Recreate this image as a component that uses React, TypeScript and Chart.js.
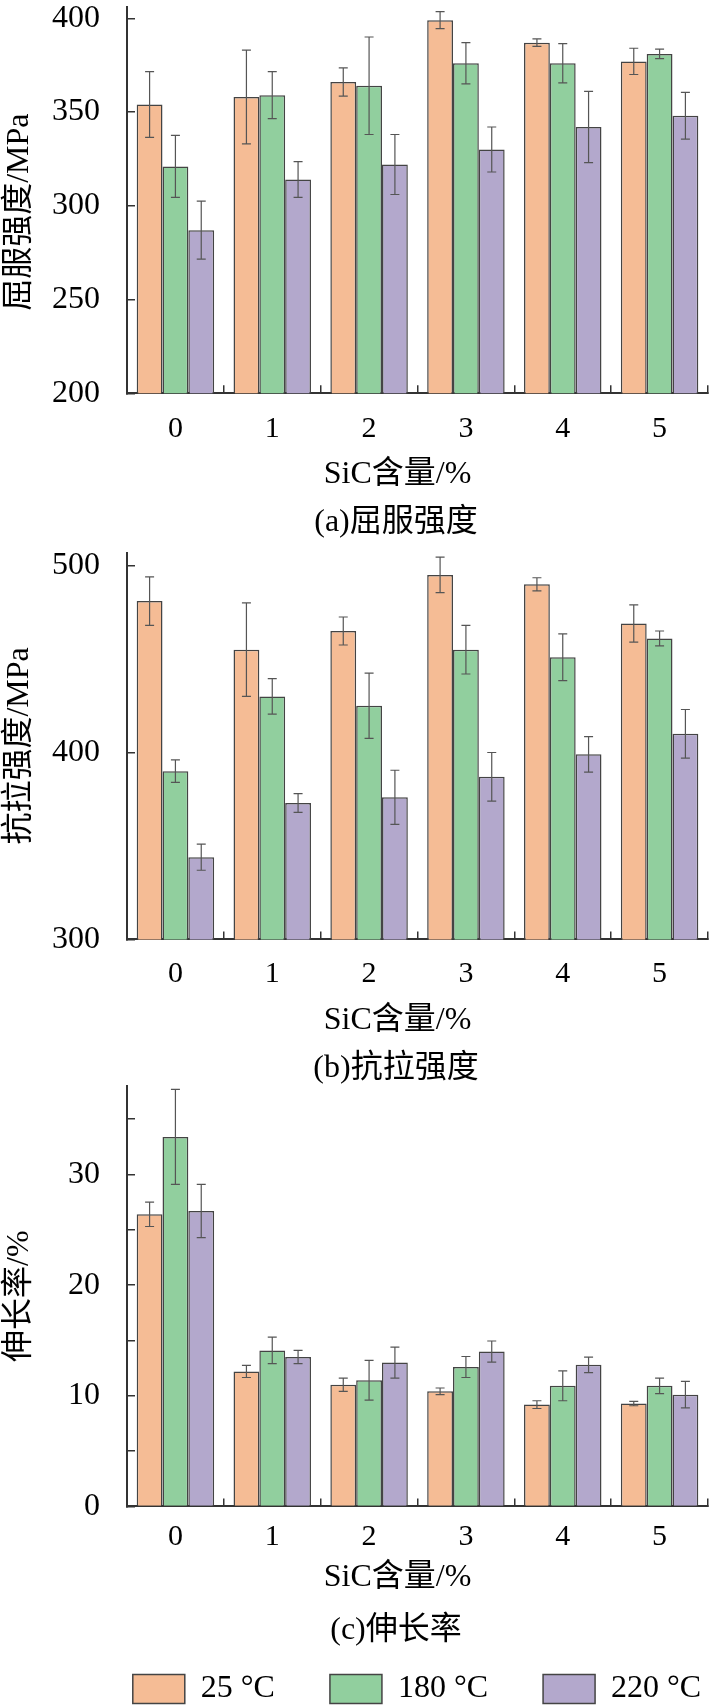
import React, { useEffect, useRef } from 'react';
import { Chart, registerables } from 'chart.js';

Chart.register(...registerables);

Chart.defaults.font.family = "'Liberation Serif', 'Noto Sans CJK SC', serif";
Chart.defaults.color = '#000';

const categories = ['0', '1', '2', '3', '4', '5'];
const seriesLabels = ['25 °C', '180 °C', '220 °C'];
const fills = ['#F5BC95', '#91CF9E', '#B3A8CC'];

// (a) 屈服强度, MPa
const yield25 = [354, 358, 366, 399, 387, 377];
const yield180 = [321, 359, 364, 376, 376, 381];
const yield220 = [287, 314, 322, 330, 342, 348];
const yieldErr25 = [17.5, 25, 7.5, 4.5, 2, 7];
const yieldErr180 = [16.5, 12.5, 26, 11, 10.5, 2.5];
const yieldErr220 = [15.5, 9.5, 16, 12, 19, 12.5];
const yieldTicks = [200, 250, 300, 350, 400];

// (b) 抗拉强度, MPa
const tensile25 = [481, 455, 465, 495, 490, 469];
const tensile180 = [390, 430, 425, 455, 451, 461];
const tensile220 = [344, 373, 376, 387, 399, 410];
const tensileErr25 = [13, 25, 7.5, 9.5, 3.5, 10];
const tensileErr180 = [6, 9.5, 17.5, 13, 12.5, 4];
const tensileErr220 = [7, 5, 14.5, 13, 9.5, 13];
const tensileTicks = [300, 400, 500];

// (c) 伸长率, %
const elong25 = [26.4, 12.2, 11.0, 10.4, 9.2, 9.3];
const elong180 = [33.4, 14.1, 11.4, 12.6, 10.9, 10.9];
const elong220 = [26.7, 13.5, 13.0, 14.0, 12.8, 10.1];
const elongErr25 = [1.1, 0.55, 0.6, 0.3, 0.35, 0.2];
const elongErr180 = [4.3, 1.2, 1.8, 0.95, 1.35, 0.7];
const elongErr220 = [2.4, 0.6, 1.4, 0.95, 0.7, 1.2];
const elongTicks = [0, 5, 10, 15, 20, 25, 30, 35];
const elongLabelled = [0, 10, 20, 30];

// draws the +/- whiskers on top of every bar
const errorBars = {
  id: 'errorBars',
  afterDatasetsDraw(chart: any) {
    const { ctx } = chart;
    const y = chart.scales.y;
    ctx.save();
    ctx.strokeStyle = '#555';
    ctx.lineWidth = 1.2;
    chart.data.datasets.forEach((ds: any, i: number) => {
      const meta = chart.getDatasetMeta(i);
      meta.data.forEach((bar: any, j: number) => {
        const v = ds.data[j];
        const e = ds.errors[j];
        const top = y.getPixelForValue(v + e);
        const bot = y.getPixelForValue(v - e);
        const x = bar.x;
        ctx.beginPath();
        ctx.moveTo(x, top);
        ctx.lineTo(x, bot);
        ctx.moveTo(x - 4.5, top);
        ctx.lineTo(x + 4.5, top);
        ctx.moveTo(x - 4.5, bot);
        ctx.lineTo(x + 4.5, bot);
        ctx.stroke();
      });
    });
    ctx.restore();
  },
};

// caption and legend sit a little right of the page centre
const nudgeBoxes = {
  id: 'nudgeBoxes',
  afterLayout(chart: any) {
    const tb = chart.titleBlock;
    if (tb) {
      tb.left += 42;
      tb.right += 42;
    }
    const lg = chart.legend;
    if (lg && lg.options.display) {
      lg.left += 63;
      lg.right += 63;
    }
  },
};

type PanelProps = {
  height: number;
  values: number[][];
  errors: number[][];
  min: number;
  max: number;
  tickValues: number[];
  labelled?: number[];
  yTitle: string;
  caption: string;
  padTop: number;
  padBottom: number;
  tickPad: number;
  xTitlePad: number;
  xHeight: number;
  capTop: number;
  capBottom: number;
  legend?: boolean;
};

function Panel(p: PanelProps) {
  const canvasRef = useRef<HTMLCanvasElement | null>(null);

  useEffect(() => {
    const el = canvasRef.current;
    if (!el) return;

    const shown = p.labelled || p.tickValues;

    const chart = new Chart(el, {
      type: 'bar',
      data: {
        labels: categories,
        datasets: seriesLabels.map((label, i) => ({
          label,
          data: p.values[i],
          errors: p.errors[i],
          backgroundColor: fills[i],
          borderColor: '#444',
          borderWidth: 1.5,
          categoryPercentage: 0.8,
          barPercentage: 1,
        })) as any,
      },
      options: {
        animation: false,
        responsive: true,
        maintainAspectRatio: false,
        layout: { padding: { top: p.padTop, bottom: p.padBottom, left: 0, right: 2 } },
        scales: {
          x: {
            grid: {
              drawOnChartArea: false,
              tickLength: -8,
              color: '#333',
              lineWidth: 1.5,
            },
            border: { display: true, color: '#333', width: 2 },
            ticks: { padding: p.tickPad, font: { size: 30, lineHeight: 1 } },
            title: {
              display: true,
              text: 'SiC含量/%     ',
              font: { size: 32, lineHeight: 1 },
              padding: { top: p.xTitlePad, bottom: 0 },
            },
            afterFit: (scale: any) => {
              scale.height = p.xHeight;
            },
          },
          y: {
            min: p.min,
            max: p.max,
            bounds: 'data',
            grid: {
              drawOnChartArea: false,
              tickLength: -8,
              color: '#333',
              lineWidth: 1.5,
            },
            border: { display: true, color: '#333', width: 2 },
            ticks: {
              autoSkip: false,
              padding: 35,
              font: { size: 32, lineHeight: 1 },
              callback: (v: any) => (shown.includes(Number(v)) ? String(v) : ''),
            },
            afterBuildTicks: (scale: any) => {
              scale.ticks = p.tickValues.map((v) => ({ value: v }));
            },
            title: {
              display: true,
              text: p.yTitle,
              font: { size: 32, lineHeight: 1 },
              padding: { top: 4, bottom: 0 },
            },
            afterFit: (scale: any) => {
              scale.width = 127;
              scale.paddingTop = 0;
              scale.paddingBottom = 0;
            },
          },
        },
        plugins: {
          legend: {
            display: !!p.legend,
            position: 'bottom',
            fullSize: true,
            labels: {
              boxWidth: 52,
              boxHeight: 29,
              padding: 55,
              font: { size: 32, lineHeight: 1 },
            },
          },
          title: {
            display: true,
            text: p.caption,
            position: 'bottom',
            weight: 500,
            font: { size: 32, lineHeight: 1, weight: 'normal' },
            padding: { top: p.capTop, bottom: p.capBottom },
          },
          tooltip: { enabled: false },
        },
      } as any,
      plugins: [errorBars, nudgeBoxes],
    });

    return () => {
      chart.destroy();
    };
  }, []);

  return (
    <div style={{ position: 'relative', width: 710, height: p.height }}>
      <canvas ref={canvasRef} />
    </div>
  );
}

export default function App() {
  return (
    <div style={{ width: 710, height: 1706, overflow: 'hidden', background: '#fff' }}>
      <style>{'body{margin:0;background:#fff}'}</style>
      <Panel
        height={544}
        values={[yield25, yield180, yield220]}
        errors={[yieldErr25, yieldErr180, yieldErr220]}
        min={200}
        max={406}
        tickValues={yieldTicks}
        yTitle={'屈服强度/MPa   '}
        caption="(a)屈服强度"
        padTop={7}
        padBottom={5}
        tickPad={28.7}
        xTitlePad={15}
        xHeight={97.7}
        capTop={16}
        capBottom={0}
      />
      <Panel
        height={541}
        values={[tensile25, tensile180, tensile220]}
        errors={[tensileErr25, tensileErr180, tensileErr220]}
        min={300}
        max={507}
        tickValues={tensileTicks}
        yTitle="抗拉强度/MPa"
        caption="(b)抗拉强度"
        padTop={8.5}
        padBottom={0}
        tickPad={28}
        xTitlePad={15}
        xHeight={97}
        capTop={16.6}
        capBottom={0}
      />
      <Panel
        height={630}
        values={[elong25, elong180, elong220]}
        errors={[elongErr25, elongErr180, elongErr220]}
        min={0}
        max={38}
        tickValues={elongTicks}
        labelled={elongLabelled}
        yTitle="伸长率/%"
        caption="(c)伸长率"
        padTop={1}
        padBottom={0}
        tickPad={23.6}
        xTitlePad={10}
        xHeight={87.6}
        capTop={21}
        capBottom={-29}
        legend
      />
    </div>
  );
}
